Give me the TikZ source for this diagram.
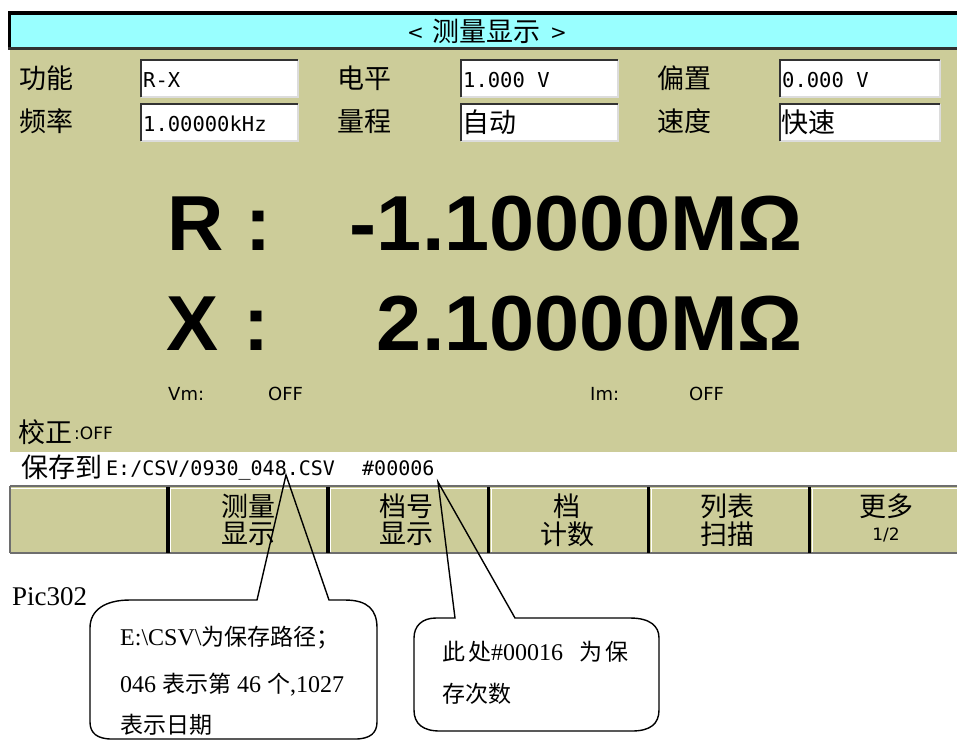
\documentclass[tikz,border=0pt]{standalone}
\usepackage{fontspec}
\setmainfont{Liberation Serif}
\newfontfamily\cjk{Noto Sans CJK SC}
\newfontfamily\monofnt{DejaVu Sans Mono}
\newfontfamily\sansfnt{DejaVu Sans}
\newfontfamily\bigfnt{Liberation Sans Bold}
\newcommand\setfs[1]{\fontsize{#1}{#1}\selectfont}
\newcommand\zh[1]{{\cjk\setfs{23}#1}}
\definecolor{khaki}{RGB}{204,204,153}
\definecolor{titlecyan}{RGB}{153,255,255}
\definecolor{darkedge}{RGB}{50,50,50}
\definecolor{lightedge}{RGB}{220,220,220}
\definecolor{btnedge}{RGB}{110,110,110}
\newcommand\fieldbox[4]{%
  \fill[white] (#1,#2) rectangle (#3,#4);
  \draw[line width=2pt, lightedge] (#3,#2) -- (#3,#4) -- (#1,#4);
  \draw[line width=2.5pt, darkedge] (#1,#4) -- (#1,#2) -- (#3,#2);
}
\tikzset{
  lbl/.style={inner sep=0, anchor=west, font=\cjk\setfs{27}},
  fieldtxt/.style={inner sep=0, anchor=base west, font=\monofnt\setfs{20.5}},
  btntxt/.style={inner sep=0, font=\cjk\setfs{27}},
  bigtxt/.style={inner sep=0, font=\bigfnt\setfs{78}},
  smalltxt/.style={inner sep=0, anchor=base west, font=\sansfnt\setfs{18}},
  callout/.style={line width=1.4pt, black},
  note/.style={inner sep=0, anchor=base west, font=\setfs{24}},
  divider/.style={line width=3.5pt, black},
}
\begin{document}
\begin{tikzpicture}[x=1pt,y=-1pt]
\useasboundingbox (0,0) rectangle (957,740);
\fill[white] (0,0) rectangle (957,740);
% screen: title bar
\fill[titlecyan] (10,14) rectangle (957,48);
\fill[black] (8,11) rectangle (957,15);
\fill[black] (8,11) rectangle (11,50);
\fill[darkedge] (8,47) rectangle (957,50);
% main area
\fill[khaki] (10,50) rectangle (957,452);
\node[inner sep=0] (title) at (487,31) {\raisebox{2pt}{\sansfnt\setfs{20}<}\hspace{8pt}{\cjk\setfs{27}测量显示}\hspace{10pt}\raisebox{2pt}{\sansfnt\setfs{20}>}};
% field boxes
\fieldbox{141}{60}{298}{97}
\fieldbox{141}{104}{298}{141}
\fieldbox{461}{60}{618}{97}
\fieldbox{461}{104}{618}{141}
\fieldbox{780}{60}{940}{97}
\fieldbox{780}{104}{940}{141}
\node[lbl] (l1) at (19,78) {功能};
\node[lbl] (l2) at (19,121) {频率};
\node[lbl] (l3) at (337,78) {电平};
\node[lbl] (l4) at (337,121) {量程};
\node[lbl] (l5) at (657,78) {偏置};
\node[lbl] (l6) at (657,121) {速度};
\node[fieldtxt] (f1) at (143,87) {R-X};
\node[fieldtxt] (f2) at (143,131) {1.00000kHz};
\node[fieldtxt] (f3) at (463,87) {1.000 V};
\node[lbl] (f4) at (462,122) {自动};
\node[fieldtxt] (f5) at (782,87) {0.000 V};
\node[lbl] (f6) at (781,122) {快速};
% big readings
\node[bigtxt, anchor=base west] (rl) at (167,250) {R};
\node[bigtxt, anchor=base] (rc) at (258,250) {:};
\node[bigtxt, anchor=base east] (rv) at (803,250) {\scalebox{1.04}[1]{-1.10000MΩ}};
\node[bigtxt, anchor=base west] (xl) at (166,350) {X};
\node[bigtxt, anchor=base] (xc) at (256,350) {:};
\node[bigtxt, anchor=base east] (xv) at (803,350) {\scalebox{1.04}[1]{2.10000MΩ}};
% status
\node[smalltxt] (vm) at (168,400) {Vm:};
\node[smalltxt] (vmo) at (268,400) {OFF};
\node[smalltxt] (im) at (590,400) {Im:};
\node[smalltxt] (imo) at (689,400) {OFF};
\node[lbl] (corr) at (18,432) {校正};
\node[smalltxt, font=\sansfnt\setfs{17}] (corro) at (74,439) {:OFF};
% save line
\node[lbl] (save) at (21,467) {保存到};
\node[fieldtxt, font=\monofnt\setfs{20}] (path) at (106,475) {E:/CSV/0930\_048.CSV};
\node[fieldtxt, font=\monofnt\setfs{20}] (count) at (362,475) {\#00006};
% buttons
\fill[khaki] (10,486) rectangle (957,553);
\draw[line width=1.5pt, btnedge] (10,486) -- (957,486);
\draw[line width=1pt, white] (10,488) -- (957,488);
\draw[line width=1.5pt, btnedge] (10,553) -- (957,553);
\draw[line width=1.5pt, btnedge] (10,486) -- (10,553);
\foreach \dx in {168,328,488.5,648.5,809.5} {
  \draw[divider] (\dx,487) -- (\dx,553);
  \draw[line width=1pt, white] (\dx+2.5,489) -- (\dx+2.5,552);
}
\node[btntxt] (b2a) at (248,506) {测量};
\node[btntxt] (b2b) at (248,534) {显示};
\node[btntxt] (b3a) at (406,506) {档号};
\node[btntxt] (b3b) at (406,534) {显示};
\node[btntxt] (b4a) at (567,506) {档};
\node[btntxt] (b4b) at (567,534) {计数};
\node[btntxt] (b5a) at (727,506) {列表};
\node[btntxt] (b5b) at (727,534) {扫描};
\node[btntxt] (b6a) at (886,506) {更多};
\node[inner sep=0, font=\sansfnt\setfs{17}] (b6b) at (886,535) {1/2};
% caption
\node[note, font=\setfs{27}] (pic) at (12,605) {Pic302};
% callouts
\coordinate (tipA) at (286,475);
\coordinate (tipB) at (438,482);
\draw[callout] (257,600) -- (tipA) -- (329,600) -- (345,600)
  .. controls (368,600) and (377,610) .. (377,628) -- (377,722)
  .. controls (377,733) and (370,739) .. (355,739) -- (112,739)
  .. controls (97,739) and (90,733) .. (90,722) -- (90,628)
  .. controls (90,610) and (105,600) .. (130,600) -- cycle;
\draw[callout] (455,618) -- (tipB) -- (515,618) -- (630,618)
  .. controls (650,618) and (659,626) .. (659,638) -- (659,710)
  .. controls (659,724) and (650,731) .. (632,731) -- (440,731)
  .. controls (423,731) and (414,724) .. (414,710) -- (414,638)
  .. controls (414,626) and (422,618) .. (436,618) -- cycle;
\node[note] (n1) at (120,645) {E:\textbackslash CSV\textbackslash\zh{为保存路径；}};
\node[note] (n2) at (120,692) {046 \zh{表示第} 46 \zh{个},1027};
\node[note] (n3) at (120,733) {\zh{表示日期}};
\node[note] (m1) at (442,660) {\zh{此}\hspace{3pt}\zh{处}\#00016\hspace{16pt}\zh{为}\hspace{3pt}\zh{保}};
\node[note] (m2) at (442,702) {\zh{存次数}};
\end{tikzpicture}
\end{document}
